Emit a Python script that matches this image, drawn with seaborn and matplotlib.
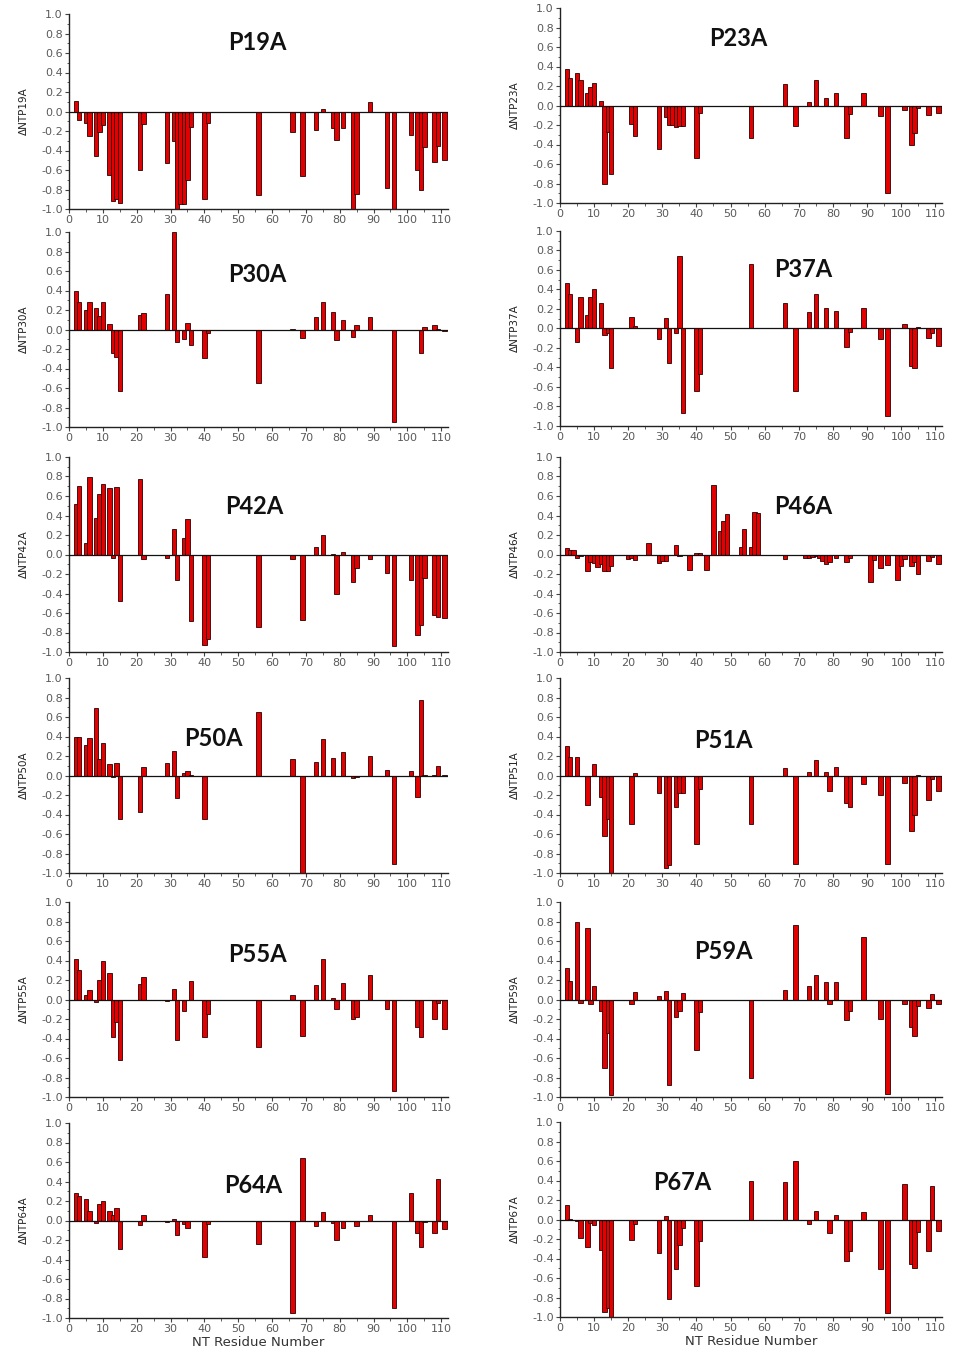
import matplotlib
matplotlib.use("Agg")
import matplotlib.pyplot as plt
import matplotlib.ticker as mticker
import seaborn as sns
import pandas as pd

# ---------------- data (residue numbers and delta values per mutant) ----------------
p19a_res = [2, 3, 5, 6, 8, 9, 10, 12, 13, 14, 15, 21, 22, 29, 31, 32, 33, 34, 35, 36, 40, 41, 56, 66, 69, 73, 75,
            78, 79, 81, 84, 85, 89, 94, 96, 101, 103, 104, 105, 108, 109, 111]
p19a_val = [0.11, -0.09, -0.12, -0.25, -0.46, -0.21, -0.14, -0.65, -0.92, -0.90, -0.94, -0.60, -0.13, -0.53, -0.30,
            -1.0, -0.95, -0.95, -0.70, -0.16, -0.90, -0.12, -0.86, -0.21, -0.66, -0.19, 0.03,
            -0.17, -0.29, -0.17, -1.0, -0.85, 0.10, -0.78, -1.0, -0.24, -0.60, -0.81, -0.36, -0.52, -0.35, -0.50]

p23a_res = [2, 3, 5, 6, 8, 9, 10, 12, 13, 14, 15, 21, 22, 29, 31, 32, 33, 34, 35, 36, 40, 41, 56, 66, 69, 73, 75,
            78, 79, 81, 84, 85, 89, 94, 96, 101, 103, 104, 105, 108, 111]
p23a_val = [0.37, 0.28, 0.33, 0.26, 0.13, 0.19, 0.23, 0.05, -0.80, -0.27, -0.70, -0.19, -0.31, -0.45, -0.12, -0.20,
            -0.20, -0.22, -0.21, -0.21, -0.54, -0.08, -0.33, 0.22, -0.21, 0.04, 0.26,
            0.08, -0.01, 0.13, -0.33, -0.09, 0.13, -0.11, -0.90, -0.05, -0.40, -0.28, -0.03, -0.10, -0.08]

p30a_res = [2, 3, 5, 6, 8, 9, 10, 12, 13, 14, 15, 21, 22, 29, 31, 32, 34, 35, 36, 40, 41, 56, 66, 69, 73, 75,
            78, 79, 81, 84, 85, 89, 96, 101, 103, 104, 105, 108, 109, 111]
p30a_val = [0.39, 0.28, 0.20, 0.28, 0.22, 0.14, 0.28, 0.06, -0.24, -0.28, -0.63, 0.15, 0.17, 0.36, 1.0, -0.13,
            -0.10, 0.07, -0.16, -0.29, -0.04, -0.55, 0.01, -0.09, 0.13, 0.28,
            0.18, -0.11, 0.10, -0.08, 0.05, 0.13, -0.95, -0.01, -0.01, -0.24, 0.03, 0.05, 0.01, -0.02]

p37a_res = [2, 3, 5, 6, 8, 9, 10, 12, 13, 14, 15, 21, 22, 29, 31, 32, 34, 35, 36, 40, 41, 56, 66, 69, 73, 75,
            78, 79, 81, 84, 85, 89, 94, 96, 101, 103, 104, 105, 108, 109, 111]
p37a_val = [0.47, 0.35, -0.14, 0.32, 0.14, 0.32, 0.41, 0.26, -0.07, -0.05, -0.41, 0.12, 0.03, -0.11, 0.11, -0.35,
            -0.05, 0.74, -0.87, -0.64, -0.47, 0.66, 0.26, -0.64, 0.17, 0.35,
            0.21, 0.01, 0.18, -0.19, -0.04, 0.21, -0.11, -0.90, 0.05, -0.38, -0.41, 0.02, -0.10, -0.05, -0.18]

p42a_res = [2, 3, 5, 6, 8, 9, 10, 12, 13, 14, 15, 21, 22, 29, 31, 32, 34, 35, 36, 40, 41, 56, 66, 69, 73, 75,
            78, 79, 81, 84, 85, 89, 94, 96, 101, 103, 104, 105, 108, 109, 111]
p42a_val = [0.52, 0.70, 0.12, 0.79, 0.37, 0.62, 0.72, 0.68, -0.04, 0.69, -0.48, 0.77, -0.05, -0.04, 0.26, -0.26,
            0.17, 0.36, -0.68, -0.93, -0.87, -0.74, -0.05, -0.67, 0.08, 0.20,
            0.01, -0.41, 0.03, -0.28, -0.14, -0.05, -0.19, -0.94, -0.26, -0.83, -0.72, -0.24, -0.62, -0.64, -0.65]

p46a_res = [2, 3, 4, 5, 6, 8, 9, 10, 11, 12, 13, 14, 15, 20, 21, 22, 26, 29, 30, 31, 34, 35, 36, 38, 40, 41, 43,
            45, 47, 48, 49, 53, 54, 56, 57, 58, 66, 72, 73, 74, 75, 76, 77, 78, 79, 81, 84, 85, 91, 92, 94, 96,
            99, 100, 101, 103, 104, 105, 108, 109, 111]
p46a_val = [0.07, 0.05, 0.05, -0.04, -0.02, -0.17, -0.08, -0.09, -0.13, -0.10, -0.17, -0.17, -0.12, -0.05, -0.04,
            -0.06, 0.12, -0.09, -0.07, -0.07, 0.10, -0.02, -0.01, -0.16, 0.02, 0.02, -0.16,
            0.71, 0.24, 0.34, 0.42, 0.08, 0.26, 0.08, 0.44, 0.43, -0.05, -0.04, -0.04, -0.03, -0.02, -0.04, -0.07,
            -0.10, -0.08, -0.04, -0.08, -0.04, -0.28, -0.06, -0.14, -0.11,
            -0.26, -0.12, -0.05, -0.12, -0.08, -0.20, -0.07, -0.03, -0.10]

p50a_res = [2, 3, 5, 6, 8, 9, 10, 12, 13, 14, 15, 21, 22, 29, 31, 32, 34, 35, 36, 40, 41, 56, 66, 69, 73, 75,
            78, 81, 84, 85, 89, 94, 96, 101, 103, 104, 105, 108, 109, 111]
p50a_val = [0.40, 0.39, 0.31, 0.38, 0.69, 0.17, 0.33, 0.12, -0.02, 0.13, -0.45, -0.37, 0.09, 0.13, 0.25, -0.23,
            0.03, 0.05, 0.01, -0.45, -0.01, 0.65, 0.17, -1.0, 0.14, 0.37,
            0.18, 0.24, -0.03, -0.02, 0.20, 0.06, -0.91, 0.05, -0.22, 0.77, 0.01, 0.01, 0.10, 0.01]

p51a_res = [2, 3, 5, 6, 8, 10, 12, 13, 14, 15, 21, 22, 29, 31, 32, 34, 35, 36, 40, 41, 56, 66, 69, 73, 75,
            78, 79, 81, 84, 85, 89, 94, 96, 101, 103, 104, 105, 108, 109, 111]
p51a_val = [0.30, 0.19, 0.19, -0.01, -0.30, 0.12, -0.22, -0.62, -0.45, -1.0, -0.50, 0.03, -0.18, -0.95, -0.92,
            -0.32, -0.18, -0.18, -0.70, -0.14, -0.50, 0.08, -0.91, 0.04, 0.16,
            0.04, -0.16, 0.09, -0.28, -0.32, -0.09, -0.20, -0.91, -0.08, -0.57, -0.40, 0.01, -0.25, -0.04, -0.16]

p55a_res = [2, 3, 5, 6, 8, 9, 10, 12, 13, 14, 15, 21, 22, 29, 31, 32, 34, 36, 40, 41, 56, 66, 69, 73, 75,
            78, 79, 81, 84, 85, 89, 94, 96, 103, 104, 105, 108, 109, 111]
p55a_val = [0.42, 0.30, 0.05, 0.10, -0.03, 0.20, 0.39, 0.27, -0.38, -0.23, -0.62, 0.16, 0.23, -0.02, 0.11, -0.42,
            -0.12, 0.19, -0.38, -0.15, -0.49, 0.05, -0.37, 0.15, 0.42,
            0.02, -0.10, 0.17, -0.20, -0.18, 0.25, -0.10, -0.94, -0.28, -0.38, -0.01, -0.20, -0.04, -0.30]

p59a_res = [2, 3, 5, 6, 8, 9, 10, 12, 13, 14, 15, 21, 22, 29, 31, 32, 34, 35, 36, 40, 41, 56, 66, 69, 73, 75,
            78, 79, 81, 84, 85, 89, 94, 96, 101, 103, 104, 105, 108, 109, 111]
p59a_val = [0.32, 0.19, 0.79, -0.04, 0.73, -0.05, 0.14, -0.12, -0.70, -0.34, -0.98, -0.05, 0.08, 0.04, 0.09, -0.88,
            -0.18, -0.12, 0.07, -0.52, -0.13, -0.81, 0.10, 0.76, 0.14, 0.25,
            0.18, -0.05, 0.18, -0.21, -0.12, 0.64, -0.20, -0.97, -0.05, -0.28, -0.37, -0.07, -0.09, 0.06, -0.05]

p64a_res = [2, 3, 5, 6, 8, 9, 10, 12, 13, 14, 15, 21, 22, 29, 31, 32, 34, 35, 40, 41, 56, 66, 69, 73, 75,
            78, 79, 81, 85, 89, 96, 101, 103, 104, 105, 108, 109, 111]
p64a_val = [0.28, 0.25, 0.22, 0.10, -0.03, 0.17, 0.20, 0.10, 0.06, 0.13, -0.29, -0.05, 0.06, -0.02, 0.02, -0.15,
            -0.04, -0.08, -0.37, -0.04, -0.24, -0.95, 0.64, -0.06, 0.09,
            -0.03, -0.20, -0.08, -0.06, 0.06, -0.90, 0.28, -0.13, -0.27, -0.02, -0.13, 0.43, -0.09]

p67a_res = [2, 3, 5, 6, 8, 9, 10, 12, 13, 14, 15, 21, 22, 29, 31, 32, 34, 35, 36, 40, 41, 56, 66, 69, 73, 75,
            79, 81, 84, 85, 89, 94, 96, 101, 103, 104, 105, 108, 109, 111]
p67a_val = [0.15, 0.01, -0.02, -0.19, -0.28, -0.04, -0.06, -0.31, -0.95, -0.91, -1.0, -0.21, -0.05, -0.34, 0.04,
            -0.82, -0.51, -0.26, -0.09, -0.68, -0.22, 0.40, 0.38, 0.60, -0.05, 0.09,
            -0.14, 0.05, -0.43, -0.32, 0.08, -0.51, -0.96, 0.36, -0.46, -0.50, -0.13, -0.32, 0.34, -0.12]

mutants = ["P19A", "P23A", "P30A", "P37A", "P42A", "P46A", "P50A", "P51A", "P55A", "P59A", "P64A", "P67A"]
series = [(p19a_res, p19a_val), (p23a_res, p23a_val), (p30a_res, p30a_val), (p37a_res, p37a_val),
          (p42a_res, p42a_val), (p46a_res, p46a_val), (p50a_res, p50a_val), (p51a_res, p51a_val),
          (p55a_res, p55a_val), (p59a_res, p59a_val), (p64a_res, p64a_val), (p67a_res, p67a_val)]
y_ticks = [-1.0, -0.8, -0.6, -0.4, -0.2, 0.0, 0.2, 0.4, 0.6, 0.8, 1.0]
x_ticks = [0, 10, 20, 30, 40, 50, 60, 70, 80, 90, 100, 110]
x_label = "NT Residue Number"

# ---------------- layout / style ----------------
sns.set_theme(style="ticks")
plt.rcParams["font.family"] = ["DejaVu Sans"]

W, H = 963, 1356
fig = plt.figure(figsize=(W / 100, H / 100), dpi=100)

left_cols = [(69, 448), (560, 942)]
row_tops = [[14, 232, 457, 678, 902, 1123], [8, 231, 457, 678, 902, 1122]]
ax_h = 195
title_pos = {
    "P19A": (0.496, 0.855), "P23A": (0.466, 0.845), "P30A": (0.496, 0.78), "P37A": (0.636, 0.805),
    "P42A": (0.49, 0.745), "P46A": (0.636, 0.745), "P50A": (0.38, 0.69), "P51A": (0.427, 0.68),
    "P55A": (0.496, 0.73), "P59A": (0.427, 0.745), "P64A": (0.486, 0.68), "P67A": (0.32, 0.69),
}

for i, (name, (res, val)) in enumerate(zip(mutants, series)):
    col = i % 2
    row = i // 2
    x0, x1 = left_cols[col]
    top = row_tops[col][row]
    ax = fig.add_axes([x0 / W, 1 - (top + ax_h) / H, (x1 - x0) / W, ax_h / H])
    df = pd.DataFrame({"res": res, "val": val})
    sns.barplot(data=df, x="res", y="val", native_scale=True, color="#e30000", saturation=1,
                edgecolor="#2a0000", linewidth=0.6, width=1.3, ax=ax)
    ax.axhline(0, color="#111111", lw=0.9, zorder=3)
    ax.set_xlim(0, 112)
    ax.set_ylim(-1.0, 1.0)
    ax.set_xticks(x_ticks)
    ax.set_xticklabels([str(t) for t in x_ticks])
    ax.set_yticks(y_ticks)
    ax.set_yticklabels([f"{t:.1f}" for t in y_ticks])
    ax.yaxis.set_minor_locator(mticker.MultipleLocator(0.1))
    ax.xaxis.set_minor_locator(mticker.MultipleLocator(5))
    for s in ["top", "right"]:
        ax.spines[s].set_visible(False)
    for s in ["left", "bottom"]:
        ax.spines[s].set_color("#222222")
        ax.spines[s].set_linewidth(1.0)
    ax.tick_params(axis="both", which="major", direction="out", length=3, width=0.8,
                   color="#444444", labelsize=8, labelcolor="#5a5a5a", pad=1.5)
    ax.tick_params(axis="both", which="minor", direction="out", length=1.8, width=0.6, color="#444444")
    ax.set_ylabel(f"\u0394NT{name}", fontsize=7.5, color="#222222", labelpad=9)
    if row == 5:
        ax.set_xlabel(x_label, fontsize=9.5, color="#333333", labelpad=1)
    else:
        ax.set_xlabel("")
    tx, ty = title_pos[name]
    ax.text(tx, ty, name, transform=ax.transAxes, ha="center", va="center",
            fontsize=17, fontweight="bold", family=["Lato", "DejaVu Sans"], color="#111111")

fig.savefig("out.png", dpi=100, facecolor="white")
